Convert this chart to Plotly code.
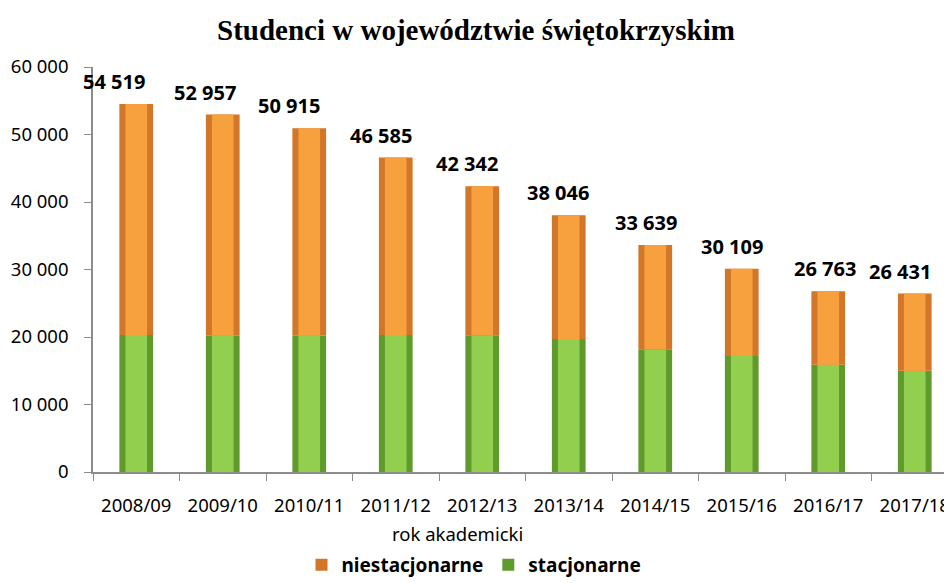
import plotly.graph_objects as go

# rok akademicki
LATA = ['2008/09', '2009/10', '2010/11', '2011/12', '2012/13',
        '2013/14', '2014/15', '2015/16', '2016/17', '2017/18']
RAZEM = [54519, 52957, 50915, 46585, 42342, 38046, 33639, 30109, 26763, 26431]
STACJONARNE = [20300, 20200, 20200, 20300, 20250, 19700, 18200, 17200, 15900, 15000]
NIESTACJONARNE = [r - s for r, s in zip(RAZEM, STACJONARNE)]

# label nudges (px) - labels sit slightly left of the bars in the original
LABEL_DX = [-22, -18, -20, -15, -15, -11, -9, -10, -3, -15]

ORANGE_DARK, ORANGE = '#D2762A', '#F7A03E'
GREEN_DARK, GREEN = '#5F9A2C', '#92CF4E'
FONT = 'Noto Sans'

# page body has an 8px margin, so the figure is laid out 8px up/left
L, T, B, R = 85, 59, 119, 2
W, H = 952, 583
PW, PH = W - L - R, H - T - B

fig = go.Figure()
# green (stacjonarne) - outer darker edge + lighter centre
fig.add_trace(go.Bar(
    x=LATA, y=STACJONARNE, base=[0] * len(LATA), width=0.39,
    marker=dict(color=GREEN_DARK, line=dict(width=0)),
    name='stacjonarne', legendrank=2,
))
fig.add_trace(go.Bar(
    x=LATA, y=STACJONARNE, base=[0] * len(LATA), width=0.25,
    marker=dict(color=GREEN, line=dict(width=0)),
    showlegend=False, hoverinfo='skip',
))
# orange (niestacjonarne)
fig.add_trace(go.Bar(
    x=LATA, y=NIESTACJONARNE, base=STACJONARNE, width=0.39,
    marker=dict(color=ORANGE_DARK, line=dict(width=0)),
    name='niestacjonarne', legendrank=1,
))
fig.add_trace(go.Bar(
    x=LATA, y=NIESTACJONARNE, base=STACJONARNE, width=0.25,
    marker=dict(color=ORANGE, line=dict(width=0)),
    showlegend=False, hoverinfo='skip',
))

# totals above the bars
for lab, tot, dx in zip(LATA, RAZEM, LABEL_DX):
    fig.add_annotation(
        x=lab, y=tot, text=f'{tot:,}'.replace(',', ' '),
        showarrow=False, yanchor='bottom', xshift=dx, yshift=7,
        font=dict(family=FONT, size=20, color='black', weight='bold'),
    )

fig.add_annotation(
    xref='paper', yref='paper', x=(449 - L) / PW, y=-61 / PH,
    text='rok akademicki', showarrow=False, yanchor='middle',
    font=dict(family=FONT, size=18.5, color='black'),
)

fig.update_layout(
    width=W, height=H,
    margin=dict(l=L, r=R, t=T, b=B),
    paper_bgcolor='white', plot_bgcolor='white',
    barmode='overlay', separators=', ',
    title=dict(
        text='Studenci w województwie świętokrzyskim',
        x=468 / W, xanchor='center', xref='container',
        y=1 - 22 / H, yanchor='middle', yref='container',
        font=dict(family='Liberation Serif', size=29, color='black', weight='bold'),
    ),
    legend=dict(
        orientation='h', xref='container', yref='container',
        x=466 / W, xanchor='center', y=1 - 557 / H, yanchor='middle',
        font=dict(family=FONT, size=19, color='black', weight='bold'),
        itemwidth=30, traceorder='normal',
    ),
    showlegend=True,
)
fig.update_xaxes(
    range=[-0.5, 9.5], showgrid=False, showline=True, linecolor='#8C8C8C',
    linewidth=1.5, ticks='outside', tickson='boundaries', ticklen=7,
    tickcolor='#8C8C8C', ticklabelstandoff=16,
    tickfont=dict(family=FONT, size=18.5, color='black'),
)
fig.update_yaxes(
    range=[0, 60000], dtick=10000, tickformat=',d', showgrid=False,
    zeroline=False, showline=True, linecolor='#8C8C8C', linewidth=1.5,
    ticks='outside', ticklen=7, tickcolor='#8C8C8C', ticklabelstandoff=12,
    tickfont=dict(family=FONT, size=18.5, color='black'),
)

fig.write_html('out.html')
